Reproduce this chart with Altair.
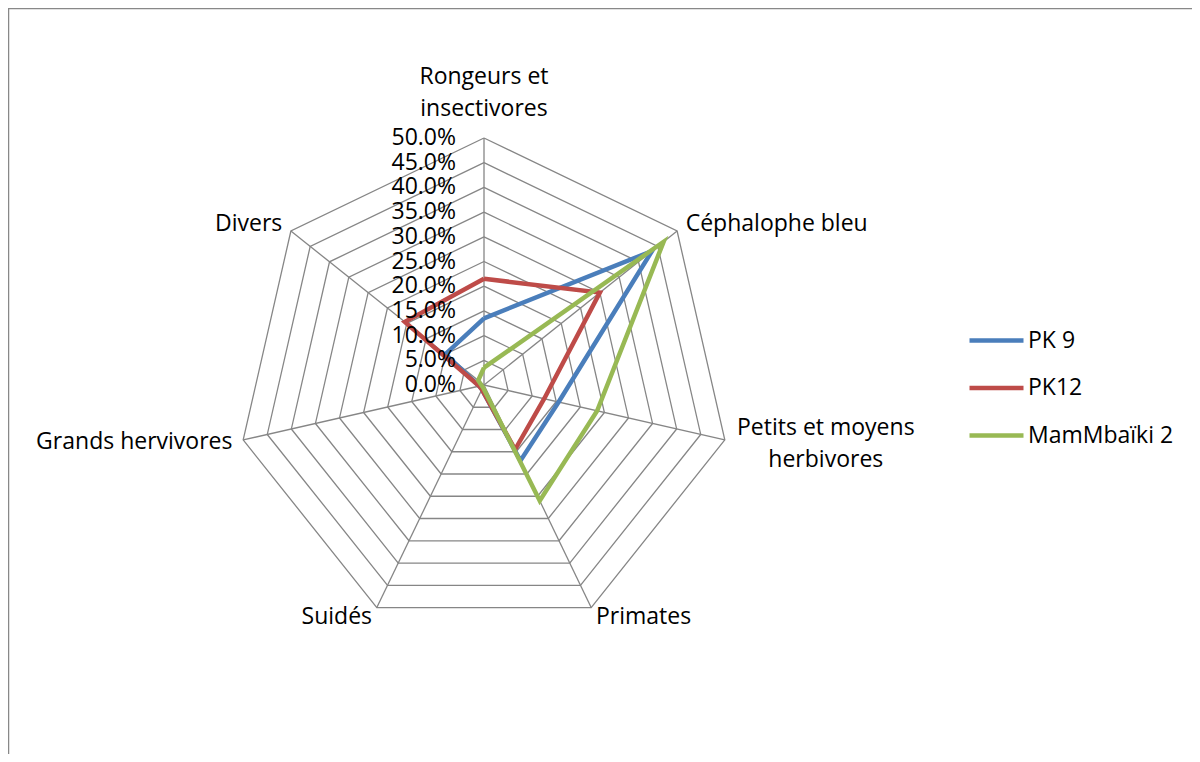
import altair as alt
import pandas as pd

# ---------------- data ----------------
categories = ["Rongeurs et insectivores", "Céphalophe bleu", "Petits et moyens herbivores",
              "Primates", "Suidés", "Grands hervivores", "Divers"]
cat_labels = ["Rongeurs et\ninsectivores", "Céphalophe bleu", "Petits et moyens\nherbivores",
              "Primates", "Suidés", "Grands hervivores", "Divers"]
series = ["PK 9", "PK12", "MamMbaïki 2"]
pk9 = [13.5, 43.5, 15.5, 17.0, 1.0, 1.0, 10.0]
pk12 = [21.5, 30.0, 12.5, 14.5, 1.0, 1.0, 20.5]
mam = [3.5, 46.5, 23.5, 26.0, 0.5, 0.5, 1.5]
ticks = [0, 5, 10, 15, 20, 25, 30, 35, 40, 45, 50]
colors = ["#4A7EBB", "#BE4B48", "#98B954"]

N = len(categories)
RMAX = ticks[-1]

# ---------------- tables ----------------
rows = []
for s, vals in zip(series, [pk9, pk12, mam]):
    for i in range(N + 1):
        rows.append({"series": s, "k": i % N, "ord": i, "r": vals[i % N]})
df_series = pd.DataFrame(rows)

ring_rows = []
for t in ticks[1:]:
    for i in range(N + 1):
        ring_rows.append({"ring": t, "k": i % N, "ord": i, "r": t})
df_rings = pd.DataFrame(ring_rows)

df_spokes = pd.DataFrame({"k": list(range(N)), "r": [RMAX] * N})
df_ticks = pd.DataFrame({"t": ticks})
df_cats = pd.DataFrame({"k": list(range(N)), "label": cat_labels})

# ---------------- geometry ----------------
PX = 247 / 50.0          # pixels per percentage unit
W, H = 1184, 746
CXp, CYp = 476, 377       # centre in view pixels
XMIN, XMAX = -CXp / PX, (W - CXp) / PX
YMIN, YMAX = -(H - CYp) / PX, CYp / PX

xs = alt.Scale(domain=[XMIN, XMAX], nice=False, zero=False)
ys = alt.Scale(domain=[YMIN, YMAX], nice=False, zero=False)

ang = f"datum.k * 2 * PI / {N}"
FONT = "Open Sans"
FS = 23
GRID = "#868686"


def polar(ch, rexpr="datum.r"):
    return ch.transform_calculate(
        x=f"({rexpr}) * sin({ang})", y=f"({rexpr}) * cos({ang})"
    )


X = alt.X("x:Q", scale=xs, axis=None)
Y = alt.Y("y:Q", scale=ys, axis=None)

# frame (top and left edges of the chart border)
frame_top = alt.Chart(pd.DataFrame({"a": [0]})).mark_rule(color="#888888", strokeWidth=1.5).encode(
    x=alt.value(0), x2=alt.value(W), y=alt.value(0.5)
)
frame_left = alt.Chart(pd.DataFrame({"a": [0]})).mark_rule(color="#888888", strokeWidth=1.5).encode(
    x=alt.value(0.5), y=alt.value(0), y2=alt.value(H)
)

rings = polar(alt.Chart(df_rings)).mark_line(color=GRID, strokeWidth=1.3).encode(
    x=X, y=Y, detail="ring:N", order="ord:Q"
)

spokes = polar(alt.Chart(df_spokes)).transform_calculate(x0="0", y0="0").mark_rule(
    color=GRID, strokeWidth=1.3
).encode(x=alt.X("x0:Q", scale=xs, axis=None), y=alt.Y("y0:Q", scale=ys, axis=None),
         x2="x:Q", y2="y:Q")

lines = polar(alt.Chart(df_series)).mark_line(strokeWidth=4.5, strokeJoin="miter").encode(
    x=X, y=Y, order="ord:Q",
    color=alt.Color(
        "series:N",
        scale=alt.Scale(domain=series, range=colors),
        sort=series,
        legend=alt.Legend(
            title=None, orient="none", legendX=959, legendY=303,
            symbolType="stroke", symbolSize=2916, symbolStrokeWidth=4.5,
            labelFont=FONT, labelFontSize=FS, labelColor="black",
            labelOffset=2, rowPadding=5.5, padding=0,
        ),
    ),
)

tick_labels = alt.Chart(df_ticks).transform_calculate(
    x="0", lab="format(datum.t / 100, '.1%')"
).mark_text(align="right", baseline="middle", dx=-28, font=FONT, fontSize=FS, color="black").encode(
    x=alt.X("x:Q", scale=xs, axis=None), y=alt.Y("t:Q", scale=ys, axis=None), text="lab:N"
)

OFF = RMAX + 11 / PX
lab_base = polar(alt.Chart(df_cats), rexpr=str(OFF))
txt = dict(baseline="middle", font=FONT, fontSize=FS, color="black", lineBreak="\n", lineHeight=32)

lab_left = lab_base.transform_filter("datum.k == 1 || datum.k == 3").mark_text(align="left", **txt).encode(
    x=X, y=Y, text="label:N")
lab_right = lab_base.transform_filter("datum.k >= 4").mark_text(align="right", **txt).encode(
    x=X, y=Y, text="label:N")

lab_top = polar(alt.Chart(df_cats), rexpr=str(RMAX)).transform_filter("datum.k == 0").mark_text(
    align="center", dy=-61, **txt).encode(x=X, y=Y, text="label:N")
lab_pm = polar(alt.Chart(df_cats), rexpr=str(RMAX)).transform_filter("datum.k == 2").mark_text(
    align="center", dx=101, dy=-12, **txt).encode(x=X, y=Y, text="label:N")

chart = alt.layer(
    frame_top, frame_left, rings, spokes, lines, tick_labels, lab_left, lab_right, lab_top, lab_pm
).properties(
    width=W, height=H, padding=0, autosize=alt.AutoSizeParams(type="none")
).configure_view(stroke=None).configure(font=FONT)

chart.save("out.html", embed_options={"renderer": "svg", "actions": False})
